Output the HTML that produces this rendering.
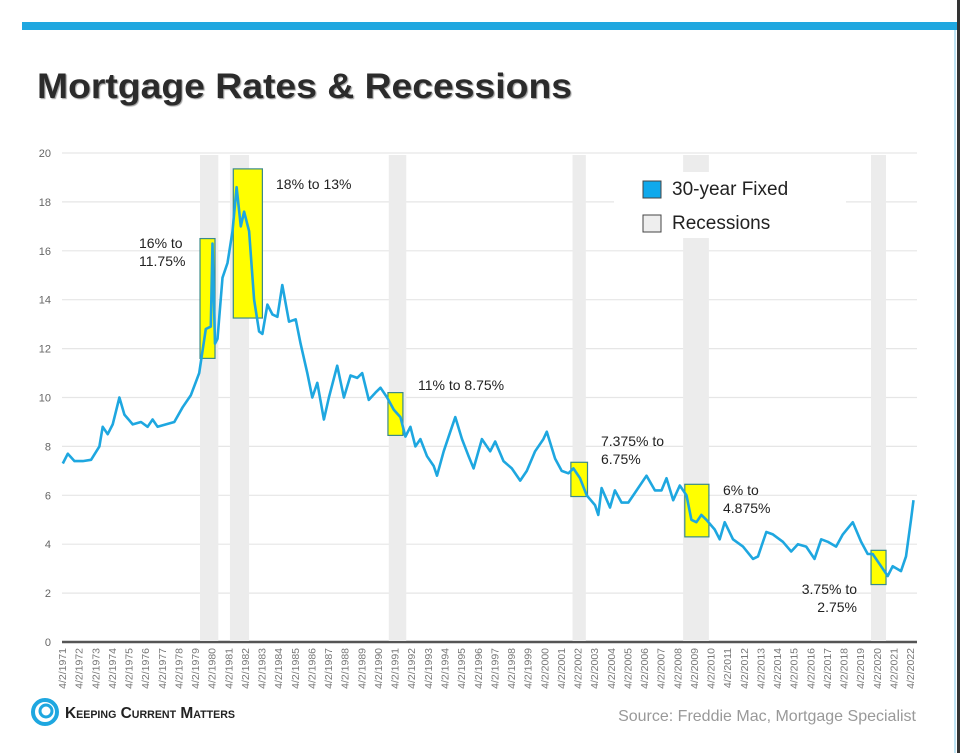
<!DOCTYPE html>
<html><head><meta charset="utf-8"><style>
body{margin:0;background:#fff;width:960px;height:753px;overflow:hidden;font-family:"Liberation Sans",Arial,sans-serif;}
svg{position:absolute;left:0;top:0}
</style></head><body>
<svg id="chart" width="960" height="753" viewBox="0 0 960 753">
<rect x="22" y="22" width="938" height="8" fill="#1fa7e0"/>
<rect x="954" y="30" width="2" height="723" fill="#bfe3f3"/>
<rect x="957" y="0" width="3" height="753" fill="#333"/>
<text x="37" y="98" font-size="35" font-weight="bold" fill="#2b2b2b" textLength="535" lengthAdjust="spacingAndGlyphs" style="text-shadow:1px 1px 1px #999">Mortgage Rates &amp; Recessions</text>
<g id="grid"></g>
<g id="rec"></g>
<g id="boxes"></g>
<path id="line" fill="none" stroke="#1ea7e0" stroke-width="2.6" stroke-linejoin="round"/>
<g id="ann"></g>
<g id="xlab"></g>
<g>
<rect x="614" y="172" width="232" height="66" fill="#fff"/>
<rect x="643" y="181" width="18" height="17" fill="#0fa9ec" stroke="#444" stroke-width="1"/>
<text x="672" y="195" font-size="19" fill="#222">30-year Fixed</text>
<rect x="643" y="215" width="18" height="17" fill="#eee" stroke="#444" stroke-width="1"/>
<text x="672" y="229" font-size="19" fill="#222">Recessions</text>
</g>
<g>
<circle cx="45" cy="712" r="12" fill="none" stroke="#1ea7e0" stroke-width="4"/>
<circle cx="46" cy="711" r="6" fill="none" stroke="#1ea7e0" stroke-width="3"/>
<text x="65" y="718" font-size="16" font-weight="bold" fill="#222" textLength="170" lengthAdjust="spacingAndGlyphs" style="font-variant:small-caps">Keeping Current Matters</text>
</g>
<text x="916" y="721" font-size="16" fill="#999" text-anchor="end">Source: Freddie Mac, Mortgage Specialist</text>
</svg>
<script>
const yTicks=[0,2,4,6,8,10,12,14,16,18,20];
const xYears=[1971,1972,1973,1974,1975,1976,1977,1978,1979,1980,1981,1982,1983,1984,1985,1986,1987,1988,1989,1990,1991,1992,1993,1994,1995,1996,1997,1998,1999,2000,2001,2002,2003,2004,2005,2006,2007,2008,2009,2010,2011,2012,2013,2014,2015,2016,2017,2018,2019,2020,2021,2022];
const dates=[1971.3,1971.6,1972.0,1972.5,1973.0,1973.5,1973.7,1974.0,1974.3,1974.7,1975.0,1975.5,1976.0,1976.4,1976.7,1977.0,1977.5,1978.0,1978.5,1979.0,1979.5,1979.9,1980.2,1980.3,1980.45,1980.6,1980.9,1981.2,1981.5,1981.75,1982.0,1982.2,1982.5,1982.8,1983.1,1983.3,1983.6,1983.9,1984.2,1984.5,1984.9,1985.3,1985.6,1986.0,1986.3,1986.6,1987.0,1987.3,1987.8,1988.2,1988.6,1989.0,1989.3,1989.7,1990.1,1990.4,1990.8,1991.2,1991.6,1991.9,1992.2,1992.5,1992.8,1993.2,1993.6,1993.8,1994.2,1994.6,1994.9,1995.3,1995.7,1996.0,1996.5,1997.0,1997.3,1997.8,1998.3,1998.8,1999.2,1999.7,2000.2,2000.4,2000.9,2001.3,2001.7,2002.0,2002.4,2002.8,2003.3,2003.5,2003.7,2004.2,2004.5,2004.9,2005.3,2005.8,2006.4,2006.9,2007.3,2007.6,2008.0,2008.4,2008.8,2009.1,2009.4,2009.7,2010.0,2010.5,2010.8,2011.1,2011.6,2012.2,2012.8,2013.1,2013.6,2014.0,2014.6,2015.1,2015.5,2016.0,2016.5,2016.9,2017.3,2017.8,2018.2,2018.8,2019.3,2019.7,2020.0,2020.4,2020.9,2021.2,2021.7,2022.0,2022.3,2022.45];
const rates=[7.3,7.7,7.4,7.4,7.45,8.0,8.8,8.5,8.9,10.0,9.3,8.9,9.0,8.8,9.1,8.8,8.9,9.0,9.6,10.1,11.0,12.8,12.9,16.3,12.2,12.4,14.9,15.5,16.8,18.6,17.0,17.6,16.8,14.0,12.7,12.6,13.8,13.4,13.3,14.6,13.1,13.2,12.2,11.0,10.0,10.6,9.1,10.0,11.3,10.0,10.9,10.8,11.0,9.9,10.2,10.4,10.0,9.5,9.2,8.4,8.8,8.0,8.3,7.6,7.2,6.8,7.8,8.6,9.2,8.3,7.6,7.1,8.3,7.8,8.2,7.4,7.1,6.6,7.0,7.8,8.3,8.6,7.5,7.0,6.9,7.1,6.7,6.0,5.6,5.2,6.3,5.5,6.2,5.7,5.7,6.2,6.8,6.2,6.2,6.7,5.8,6.4,6.0,5.0,4.9,5.2,5.0,4.6,4.2,4.9,4.2,3.9,3.4,3.5,4.5,4.4,4.1,3.7,4.0,3.9,3.4,4.2,4.1,3.9,4.4,4.9,4.1,3.6,3.6,3.2,2.7,3.1,2.9,3.5,5.0,5.8];
const recStart=[1979.55,1981.35,1990.9,2001.95,2008.6,2019.9];
const recEnd=[1980.65,1982.5,1991.95,2002.75,2010.15,2020.8];
const boxStart=[1979.55,1981.55,1990.85,2001.85,2008.7,2019.9];
const boxEnd=[1980.45,1983.3,1991.75,2002.85,2010.15,2020.8];
const boxHigh=[16.5,19.35,10.2,7.35,6.45,3.75];
const boxLow=[11.6,13.25,8.45,5.95,4.3,2.35];
const annText=[["16% to","11.75%"],["18% to 13%"],["11% to 8.75%"],["7.375% to","6.75%"],["6% to","4.875%"],["3.75% to","2.75%"]];
const annX=[139,276,418,601,723,857];
const annY=[248,189,390,446,495,594];
const NS="http://www.w3.org/2000/svg";
const X=y=>62+(y-1971.25)*16.63;
const Y=v=>642-v*24.45;
function mk(tag,attrs,parent){const e=document.createElementNS(NS,tag);for(const k in attrs)e.setAttribute(k,attrs[k]);parent.appendChild(e);return e;}
const grid=document.getElementById('grid');
yTicks.forEach(t=>{
 const l=mk('line',{x1:62,x2:917,y1:Y(t),y2:Y(t),stroke:t===0?'#555':'#e6e6e6','stroke-width':t===0?2.5:1.2},grid);
 
 
 const tx=mk('text',{x:51,y:Y(t)+4,'font-size':11,fill:'#666','text-anchor':'end'},grid);
 tx.textContent=t;
 
 
});
const rec=document.getElementById('rec');
recStart.forEach((s,i)=>{
 const r=mk('rect',{x:X(s),y:155,width:X(recEnd[i])-X(s),height:486,fill:'#ececec'},rec);
 
 
});
const boxes=document.getElementById('boxes');
boxStart.forEach((s,i)=>{
 const r=mk('rect',{x:X(s),y:Y(boxHigh[i]),width:X(boxEnd[i])-X(s),height:Y(boxLow[i])-Y(boxHigh[i]),fill:'#ffff00',stroke:'#3a8a8a','stroke-width':1.2},boxes);
 
 
});
document.getElementById('line').setAttribute('d',dates.map((d,i)=>(i?'L':'M')+X(d).toFixed(1)+' '+Y(rates[i]).toFixed(1)).join(' '));
const ann=document.getElementById('ann');
annText.forEach((lines,i)=>{
 const anchor=i===5?'end':'start';
 const t=mk('text',{x:annX[i],y:annY[i],'font-size':14,fill:'#222','text-anchor':anchor},ann);
 
 
 lines.forEach((s,j)=>{const ts=mk('tspan',{x:annX[i],dy:j?18:0},t);ts.textContent=s;});
});
const xl=document.getElementById('xlab');
xYears.forEach(y=>{
 const x=X(y+0.25);
 const t=mk('text',{x:0,y:0,'font-size':10.5,fill:'#777','text-anchor':'end',transform:`translate(${x+4},648) rotate(-90)`},xl);
 t.textContent='4/2/'+y;
 
 
});
</script>
</body></html>
